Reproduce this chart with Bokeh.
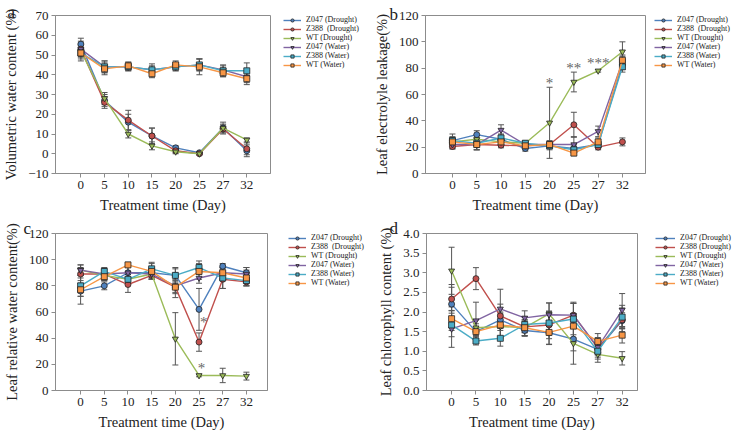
from bokeh.plotting import figure
from bokeh.models import (Whisker, TeeHead, ColumnDataSource, FixedTicker, Legend,
                          LegendItem, Title, PrintfTickFormatter, Range1d)
from bokeh.layouts import column, row
from bokeh.embed import file_html
from bokeh.resources import INLINE
from bokeh.core.properties import value

days = ["0", "5", "10", "15", "20", "25", "27", "32"]
names_abc = ["Z047 (Drought)", "Z388  (Drought)", "WT (Drought)", "Z047 (Water)", "Z388 (Water)", "WT (Water)"]
names_d = ["Z047 (Drought)", "Z388 (Drought)", "WT (Drought)", "Z047 (Water)", "Z388 (Water)", "WT (Water)"]
colors = ["#4f81bd", "#c0504d", "#9bbb59", "#8064a2", "#4bacc6", "#f79646"]
markers = ["circle", "circle", "inverted_triangle", "inverted_triangle", "square", "square"]

# a: volumetric water content (%)
vwc_mean = [
    [55.5, 27, 16, 9, 3, 0.5, 13, 1.5],
    [53, 26, 17, 9, 1.5, 0, 12.5, 2.5],
    [52, 28, 10, 4, 1, 0, 13, 7],
    [53, 44, 44, 42.5, 44, 45, 42.5, 39],
    [51, 44, 44, 42.5, 44, 45, 42, 42],
    [51, 43, 44.5, 40.5, 45, 44, 41, 38],
]
vwc_err = [
    [3, 3, 4, 4, 1, 0.5, 2, 3],
    [4, 3, 5, 4, 1, 0.5, 2, 3],
    [3, 3, 2, 2, 1, 0.5, 3, 1],
    [3, 3, 2, 2, 2, 3, 2, 3],
    [3, 3, 2, 3, 2, 3, 3, 4],
    [4, 3, 2, 2, 2, 4, 2, 3],
]
# b: leaf electrolyte leakage (%)
lel_mean = [
    [25, 29.5, 26, 19, 21, 19, 22, 83],
    [20.5, 22, 21.5, 21, 22, 37, 20, 24],
    [24, 26, 24, 23, 38.5, 69.5, 78, 92.5],
    [22, 22, 33, 22, 22, 22, 32, 85],
    [25, 23, 27, 23, 21, 18, 22, 81],
    [24, 22, 24, 21, 22, 15.5, 24, 86],
]
lel_err = [
    [5, 3, 3, 2, 2, 3, 2, 4],
    [2, 4, 2, 2, 2, 9.5, 2, 3],
    [3, 3, 3, 2, 27, 7.5, 1, 7.5],
    [3, 4, 4, 2, 3, 6, 4, 4],
    [3, 3, 3, 2, 3, 3, 2, 4],
    [3, 4, 3, 2, 2, 2, 3, 4],
]
# c: leaf relative water content (%)
rwc_mean = [
    [76, 80, 90, 90, 88, 62, 95, 90],
    [89, 89, 81, 88, 79, 37, 85, 83],
    [92, 88, 85, 89, 39.5, 11.5, 11.5, 11],
    [92, 89, 90, 89, 80, 86, 90, 89],
    [80, 91, 85, 93, 88, 94, 86, 84],
    [77, 87, 96, 91, 79, 91, 90, 86],
]
rwc_err = [
    [10, 3, 4, 4, 5, 16, 2, 4],
    [5, 4, 6, 3, 8, 7, 7, 3],
    [4, 4, 4, 3, 20, 1, 5.5, 3],
    [4, 4, 5, 4, 5, 4, 4, 5],
    [8, 3, 4, 5, 6, 5, 8, 4],
    [5, 3, 2, 6, 5, 6, 4, 6],
]
# d: leaf chlorophyll content (%)
chl_mean = [
    [2.2, 1.5, 1.8, 1.53, 1.47, 1.31, 1.05, 1.78],
    [2.33, 2.85, 1.9, 1.62, 1.67, 1.92, 1.08, 1.8],
    [3.05, 1.6, 1.63, 1.6, 1.95, 1.2, 0.92, 0.82],
    [1.57, 1.78, 2.08, 1.85, 1.93, 1.92, 1.1, 2.05],
    [1.67, 1.26, 1.33, 1.68, 1.72, 1.82, 1.0, 1.87],
    [1.83, 1.5, 1.67, 1.6, 1.48, 1.64, 1.25, 1.41],
]
chl_err = [
    [0.5, 0.12, 0.2, 0.15, 0.3, 0.3, 0.15, 0.2],
    [0.3, 0.28, 0.3, 0.15, 0.35, 0.3, 0.15, 0.3],
    [0.6, 0.2, 0.3, 0.2, 0.28, 0.53, 0.2, 0.17],
    [0.47, 0.47, 0.5, 0.18, 0.3, 0.33, 0.25, 0.42],
    [0.3, 0.1, 0.2, 0.2, 0.3, 0.4, 0.2, 0.3],
    [0.3, 0.2, 0.3, 0.2, 0.3, 0.3, 0.2, 0.2],
]

# significance marks
star_b_x = [4, 5, 6]
star_b_y = [69, 80.5, 84]
star_b_t = ["*", "**", "***"]
star_c_x = [5.2, 5.1]
star_c_y = [52, 17.5]
star_c_t = ["*", "*"]

FONT = "Liberation Serif"
GRAY = "#8c8c8c"


def make_panel(letter, letter_off, letter_standoff, letter_valign, means, errs, ylabel,
               yticks, yfmt, xr, w, h, bl, bt, br, bb, stars=None):
    p = figure(width=w, height=h, output_backend="svg", toolbar_location=None,
               x_range=Range1d(*xr), y_range=Range1d(yticks[0], yticks[-1]),
               min_border_left=bl, min_border_top=bt, min_border_right=br,
               min_border_bottom=bb)
    p.grid.visible = False
    p.outline_line_color = GRAY
    p.background_fill_color = "white"
    p.border_fill_color = "white"
    xs = list(range(len(days)))
    for i, (m, e) in enumerate(zip(means, errs)):
        src = ColumnDataSource(dict(x=xs, y=m,
                                    lo=[a - b for a, b in zip(m, e)],
                                    hi=[a + b for a, b in zip(m, e)]))
        wk = Whisker(source=src, base="x", upper="hi", lower="lo",
                     line_color="#555555", line_width=1,
                     upper_head=TeeHead(size=6, line_color="#555555", line_width=1),
                     lower_head=TeeHead(size=6, line_color="#555555", line_width=1))
        p.add_layout(wk)
    for i, m in enumerate(means):
        src = ColumnDataSource(dict(x=xs, y=m))
        p.line("x", "y", source=src, line_color=colors[i], line_width=1.4)
        p.scatter("x", "y", source=src, marker=markers[i], size=6,
                  fill_color=colors[i], line_color="#222222", line_width=0.8)
    if stars:
        sx, sy, st = stars
        p.text(x=sx, y=sy, text=st, text_font=value(FONT), text_font_size="15px",
               text_color="#666666", text_align="center", text_baseline="middle")

    t = Title(text=letter, align="left", offset=letter_off, vertical_align=letter_valign,
              text_font=FONT, text_font_size="17px", text_font_style="normal",
              text_color="#222222")
    try:
        t.standoff = letter_standoff
    except Exception:
        t.standoff = 0
    p.title = t

    p.xaxis.ticker = FixedTicker(ticks=xs)
    p.xaxis.major_label_overrides = {i: d for i, d in enumerate(days)}
    p.yaxis.ticker = FixedTicker(ticks=yticks)
    if yfmt:
        p.yaxis.formatter = PrintfTickFormatter(format=yfmt)
    p.xaxis.axis_label = "Treatment time (Day)"
    p.yaxis.axis_label = ylabel
    for ax in (p.xaxis, p.yaxis):
        ax.axis_line_color = GRAY
        ax.major_tick_line_color = GRAY
        ax.minor_tick_line_color = None
        ax.major_tick_out = 4
        ax.major_tick_in = 0
        ax.major_label_text_font = FONT
        ax.major_label_text_font_size = "13px"
        ax.major_label_text_color = "#222222"
        ax.axis_label_text_font = FONT
        ax.axis_label_text_font_size = "14.5px"
        ax.axis_label_text_font_style = "normal"
        ax.axis_label_text_color = "#222222"
    p.xaxis.major_label_standoff = 3
    p.xaxis.axis_label_standoff = 5
    p.yaxis.major_label_standoff = 3
    p.yaxis.axis_label_standoff = 6
    return p


def make_legend(names, w, h, bl, bt, gw):
    lf = figure(width=w, height=h, output_backend="svg", toolbar_location=None,
                x_axis_type=None, y_axis_type=None,
                x_range=Range1d(0, 1), y_range=Range1d(0, 1),
                min_border_left=bl, min_border_top=bt, min_border_right=0,
                min_border_bottom=0)
    lf.grid.visible = False
    lf.outline_line_color = None
    lf.background_fill_color = "white"
    lf.border_fill_color = "white"
    nan = float("nan")
    items = []
    for i, nm in enumerate(names):
        src = ColumnDataSource(dict(x=[nan], y=[nan]))
        ln = lf.line("x", "y", source=src, line_color=colors[i], line_width=1.4)
        sc = lf.scatter("x", "y", source=src, marker=markers[i], size=6,
                        fill_color=colors[i], line_color="#222222", line_width=0.8)
        items.append(LegendItem(label=nm, renderers=[ln, sc]))
    leg = Legend(items=items, location="top_left", padding=0, margin=0, spacing=0,
                 glyph_width=gw, glyph_height=8, label_height=8, label_standoff=5,
                 label_text_font=FONT, label_text_font_size="8px",
                 label_text_color="#222222",
                 border_line_alpha=0, background_fill_alpha=0)
    lf.add_layout(leg, "center")
    return lf


pa = make_panel("a", -48, -12, "bottom", vwc_mean, vwc_err,
                "Volumetric water content (%)", [-10, 0, 10, 20, 30, 40, 50, 60, 70], None,
                (-1.07, 8.0), 280, 220, 50, 15, 10, 47)
la = make_legend(names_abc, 87, 220, 3, 11, 18)
pb = make_panel("b", -36, -16, "bottom", lel_mean, lel_err,
                "Leaf electrolyle leakage(%)", [0, 20, 40, 60, 80, 100, 120], None,
                (-1.11, 7.95), 285, 220, 58, 15, 7, 47,
                stars=(star_b_x, star_b_y, star_b_t))
lb = make_legend(names_abc, 82, 220, 2, 11, 18)
pc = make_panel("c", -32, -11, "middle", rwc_mean, rwc_err,
                "Leaf relative water content(%)", [0, 20, 40, 60, 80, 100, 120], None,
                (-1.06, 7.89), 280, 219, 47, 10, 13, 49,
                stars=(star_c_x, star_c_y, star_c_t))
lc = make_legend(names_abc, 87, 219, 8, 9, 18)
pd_ = make_panel("d", -37, -9, "bottom", chl_mean, chl_err,
                 "Leaf chlorophyll content (%)", [0, 0.5, 1.0, 1.5, 2.0, 2.5, 3.0, 3.5, 4.0], "%.1f",
                 (-1.03, 7.63), 280, 219, 59, 13, 10, 49)
ld = make_legend(names_d, 87, 219, 8, 11, 20)

layout = column(row(pa, la, pb, lb), row(pc, lc, pd_, ld))
open("out.html", "w").write(file_html(layout, INLINE))
